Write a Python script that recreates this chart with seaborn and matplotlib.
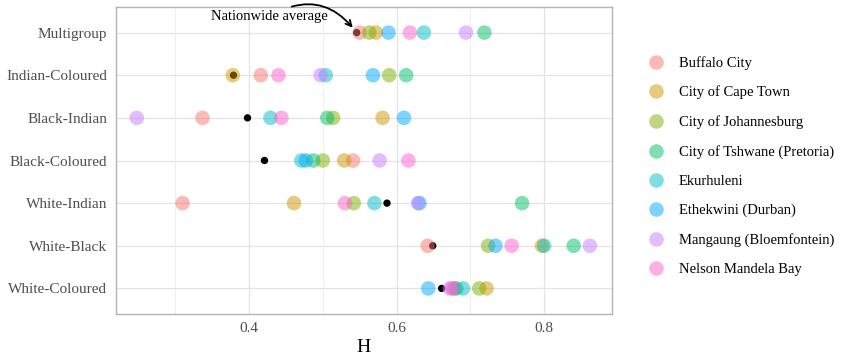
import matplotlib
matplotlib.use("Agg")
import matplotlib.pyplot as plt
import seaborn as sns
import pandas as pd

# Segregation index H by group pairing, for each metro and for the whole country
pairings = ["Multigroup", "Indian-Coloured", "Black-Indian", "Black-Coloured",
            "White-Indian", "White-Black", "White-Coloured"]

cities = ["Buffalo City", "City of Cape Town", "City of Johannesburg",
          "City of Tshwane (Pretoria)", "Ekurhuleni", "Ethekwini (Durban)",
          "Mangaung (Bloemfontein)", "Nelson Mandela Bay"]

buffalo_city = [0.550, 0.416, 0.337, 0.541, 0.310, 0.642, 0.678]
cape_town = [0.572, 0.378, 0.581, 0.529, 0.461, 0.797, 0.722]
johannesburg = [0.563, 0.590, 0.514, 0.500, 0.542, 0.724, 0.712]
tshwane = [0.719, 0.613, 0.506, 0.487, 0.770, 0.840, 0.681]
ekurhuleni = [0.637, 0.504, 0.429, 0.471, 0.570, 0.800, 0.690]
ethekwini = [0.589, 0.568, 0.610, 0.477, 0.631, 0.734, 0.643]
mangaung = [0.694, 0.497, 0.248, 0.577, 0.629, 0.862, 0.672]
nelson_mandela = [0.618, 0.440, 0.444, 0.616, 0.530, 0.756, 0.675]

nationwide = [0.546, 0.379, 0.398, 0.421, 0.587, 0.649, 0.661]

city_values = [buffalo_city, cape_town, johannesburg, tshwane,
               ekurhuleni, ethekwini, mangaung, nelson_mandela]

palette = ["#F8766D", "#CD9600", "#7CAE00", "#00BE67",
           "#00BFC4", "#00A9FF", "#C77CFF", "#FF61CC"]

rows = []
for city, vals in zip(cities, city_values):
    for p, v in zip(pairings, vals):
        rows.append({"pairing": p, "H": v, "city": city})
df = pd.DataFrame(rows)
df_nat = pd.DataFrame({"pairing": pairings, "H": nationwide})

sns.set_theme(style="white")
plt.rcParams["font.family"] = ["Liberation Serif", "DejaVu Serif"]

fig = plt.figure(figsize=(8.42, 3.57), dpi=100)
ax = fig.add_axes([115.7 / 842, (357 - 314) / 357, (612.3 - 115.7) / 842, (314 - 7) / 357])

# nationwide average underneath the city points
sns.scatterplot(data=df_nat, x="H", y="pairing", color="black", s=28,
                edgecolor="none", ax=ax, zorder=3, legend=False)
sns.scatterplot(data=df, x="H", y="pairing", hue="city", hue_order=cities,
                palette=palette, s=110, alpha=0.5, edgecolor="none",
                ax=ax, zorder=4)

ax.set_xlim(0.2194, 0.8923)
ax.set_ylim(len(pairings) - 1 + 0.6, -0.6)
ax.set_xticks([0.4, 0.6, 0.8])
ax.set_xticklabels(["0.4", "0.6", "0.8"])
ax.set_xticks([0.3, 0.5, 0.7], minor=True)
ax.grid(True, which="major", color="#e3e3e3", lw=0.9, zorder=0)
ax.grid(True, which="minor", axis="x", color="#eeeeee", lw=0.6, zorder=0)
ax.set_axisbelow(True)
for sp in ax.spines.values():
    sp.set_color("#b3b3b3")
    sp.set_linewidth(1.0)
ax.tick_params(axis="both", which="major", length=3, width=0.8, color="#b3b3b3",
               labelsize=11, labelcolor="#4d4d4d", pad=3)
ax.tick_params(axis="both", which="minor", length=0)
ax.set_ylabel("")
ax.set_xlabel("H", fontsize=14, color="black", labelpad=3)

ax.annotate("Nationwide average", xy=(nationwide[0], 0),
            xytext=(nationwide[0] - 0.039, -0.37),
            ha="right", va="center", fontsize=10.5, color="black",
            arrowprops=dict(arrowstyle="->", color="black", lw=1.3,
                            connectionstyle="arc3,rad=-0.45",
                            shrinkA=1, shrinkB=4.5))

handles, labels = ax.get_legend_handles_labels()
leg = ax.legend(handles, labels, loc="upper left",
                bbox_to_anchor=(636 / 842, 1 - 50 / 357),
                bbox_transform=fig.transFigure, frameon=False,
                fontsize=10.5, labelspacing=1.09, handletextpad=0.55,
                borderaxespad=0, markerscale=1.0)
for t in leg.get_texts():
    t.set_color("black")

fig.savefig("out.png", dpi=100)
